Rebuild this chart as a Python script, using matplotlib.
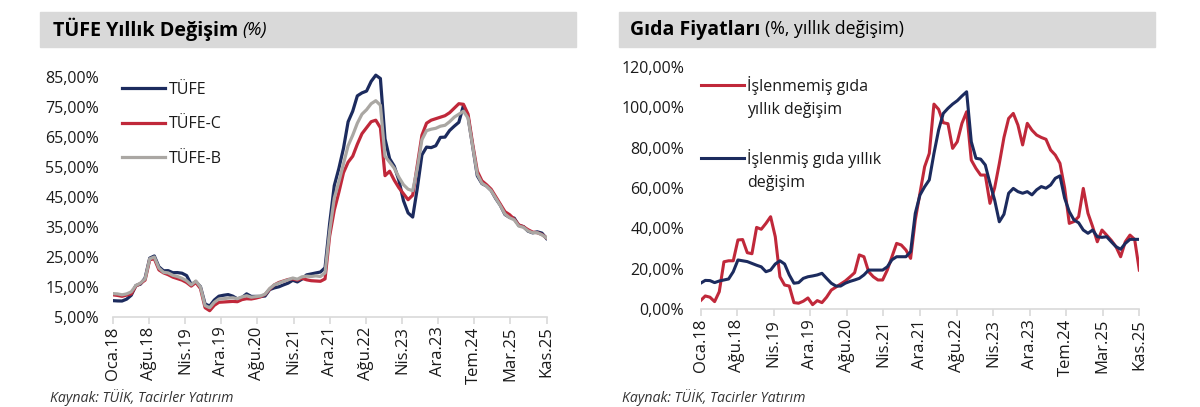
import numpy as np
import matplotlib
matplotlib.use('Agg')
import matplotlib.pyplot as plt
from matplotlib.patches import Rectangle
from matplotlib.ticker import FuncFormatter
from matplotlib.legend_handler import HandlerLine2D

plt.rcParams['font.family'] = ['Open Sans', 'DejaVu Sans']

# aylik veriler, Oca.18 - Kas.25
tufe = [
    10.35, 10.26, 10.23, 10.85, 12.15, 15.39, 15.85, 17.90, 24.52, 25.24, 21.62, 20.30,
    20.35, 19.67, 19.71, 19.50, 18.71, 15.72, 16.65, 15.01, 9.26, 8.55, 10.56, 11.84,
    12.15, 12.37, 11.86, 10.94, 11.39, 12.62, 11.76, 11.77, 11.75, 11.89, 14.03, 14.60,
    14.97, 15.61, 16.19, 17.14, 16.59, 17.53, 18.95, 19.25, 19.58, 19.89, 21.31, 36.08,
    48.69, 54.44, 61.14, 69.97, 73.50, 78.62, 79.60, 80.21, 83.45, 85.51, 84.39, 64.27,
    57.68, 55.18, 50.51, 43.68, 39.59, 38.21, 47.83, 58.94, 61.53, 61.36, 61.98, 64.77,
    64.86, 67.07, 68.50, 69.80, 75.45, 71.60, 61.78, 51.97, 49.38, 48.58, 47.09, 44.38,
    42.12, 39.05, 38.10, 37.86, 35.41, 35.05, 33.52, 32.95, 33.29, 32.87, 31.07]
tufe_c = [
    12.3, 12.1, 11.8, 12.2, 12.6, 15.2, 16.1, 17.2, 24.0, 24.3, 20.6, 19.6,
    19.0, 18.2, 17.7, 17.2, 16.4, 15.2, 16.4, 14.4, 8.0, 7.0, 8.8, 9.8,
    9.9, 10.0, 10.1, 10.0, 10.7, 11.0, 10.9, 11.2, 11.6, 12.4, 14.2, 15.6,
    16.4, 16.9, 17.4, 17.6, 17.2, 17.8, 17.3, 17.0, 16.9, 16.8, 17.6, 31.9,
    40.5, 46.5, 53.0, 56.5, 58.5, 62.5, 66.0, 68.0, 70.0, 70.5, 68.0, 52.0,
    53.5, 50.5, 48.0, 46.0, 44.0, 45.5, 55.5, 65.5, 69.5, 70.5, 71.0, 71.5,
    72.0, 73.0, 74.5, 76.0, 75.8, 72.5, 62.5, 53.5, 50.3, 49.0, 47.5, 45.0,
    42.5, 40.0, 39.0, 37.5, 35.6, 35.0, 34.0, 33.2, 33.0, 32.4, 31.3]
tufe_b = [
    12.7, 12.6, 12.3, 12.6, 13.3, 15.4, 16.2, 17.6, 24.3, 24.9, 21.2, 19.8,
    19.6, 18.8, 18.4, 17.8, 17.0, 15.6, 16.9, 14.9, 8.7, 8.0, 9.8, 10.9,
    11.0, 11.2, 11.3, 11.0, 11.6, 12.0, 11.5, 11.7, 11.9, 12.5, 14.4, 15.6,
    16.2, 16.8, 17.3, 17.9, 17.5, 18.3, 18.5, 18.4, 18.6, 18.4, 19.6, 33.5,
    44.5, 50.0, 56.0, 62.0, 65.5, 69.5, 72.5, 74.0, 76.0, 77.0, 75.5, 58.5,
    56.5, 54.5, 51.5, 49.0, 47.5, 47.0, 54.5, 64.0, 67.0, 67.5, 67.8, 68.5,
    68.8, 70.0, 71.5, 72.5, 73.5, 71.2, 61.8, 52.5, 49.5, 48.5, 47.0, 44.5,
    42.0, 39.2, 38.0, 37.3, 35.2, 34.8, 33.6, 33.0, 33.0, 32.3, 31.3]

islenmemis = [
    4.3, 6.6, 6.0, 3.8, 8.7, 23.5, 24.0, 24.0, 34.3, 34.5, 28.0, 27.5,
    40.5, 39.6, 42.5, 45.8, 35.9, 16.1, 12.0, 11.5, 3.3, 3.0, 4.0, 5.6,
    2.3, 4.3, 3.3, 6.0, 9.5, 11.0, 12.5, 14.0, 16.0, 18.1, 26.9, 26.0,
    18.6, 16.1, 14.5, 14.5, 19.4, 26.0, 32.6, 31.8, 29.3, 25.2, 44.2, 57.4,
    70.5, 77.1, 101.5, 98.9, 92.3, 91.8, 79.6, 82.9, 92.0, 97.7, 73.8, 69.7,
    66.4, 66.4, 52.4, 60.0, 72.0, 85.0, 94.4, 96.9, 91.1, 81.3, 92.0, 88.6,
    86.2, 85.0, 84.1, 78.8, 76.3, 72.2, 60.0, 42.5, 43.4, 45.8, 59.8, 47.5,
    40.9, 33.4, 39.2, 36.7, 34.1, 31.0, 26.0, 33.4, 36.7, 34.6, 19.4]
islenmis = [
    12.9, 14.3, 14.2, 13.2, 14.0, 14.5, 15.0, 18.6, 24.4, 24.0, 23.6, 22.7,
    21.8, 21.0, 18.6, 19.4, 22.4, 24.0, 22.4, 17.0, 12.9, 13.2, 15.3, 16.1,
    16.5, 17.0, 17.8, 15.3, 12.9, 11.5, 11.5, 12.9, 13.8, 14.5, 15.3, 17.0,
    19.4, 19.4, 19.4, 19.4, 21.0, 24.5, 26.0, 26.0, 26.0, 28.5, 47.5, 56.5,
    60.6, 64.0, 77.1, 88.7, 96.9, 99.4, 101.5, 103.2, 105.5, 107.6, 82.9, 74.7,
    74.3, 71.4, 62.3, 54.1, 43.3, 47.0, 57.4, 59.8, 58.2, 57.4, 58.2, 56.6,
    59.1, 60.7, 59.9, 61.5, 64.8, 66.0, 55.0, 48.3, 44.2, 42.8, 39.2, 37.6,
    39.2, 35.9, 35.6, 35.9, 33.4, 31.0, 29.7, 32.6, 34.6, 34.6, 34.6]

tick_labels = ['Oca.18', 'Ağu.18', 'Nis.19', 'Ara.19', 'Ağu.20', 'Nis.21', 'Ara.21',
               'Ağu.22', 'Nis.23', 'Ara.23', 'Tem.24', 'Mar.25', 'Kas.25']

NAVY = '#1C2B5E'
RED = '#C0283A'
GREY = '#AAA7A3'
TXT = '#1A1A1A'
W, H = 1200, 407


class FirstLineHandler(HandlerLine2D):
    # legend cizgisini cok satirli etiketin ilk satirina hizala
    def create_artists(self, legend, orig_handle, xdescent, ydescent, width, height,
                       fontsize, trans):
        artists = super().create_artists(legend, orig_handle, xdescent, ydescent,
                                         width, height, fontsize, trans)
        for a in artists:
            a.set_ydata(np.asarray(a.get_ydata()) + 0.8 * fontsize)
        return artists


def pct(v, pos):
    return '{:.2f}%'.format(v).replace('.', ',')


def style_axis(ax):
    for s in ['left', 'right', 'top']:
        ax.spines[s].set_visible(False)
    ax.spines['bottom'].set_color('#D9D9D9')
    ax.spines['bottom'].set_linewidth(1.2)
    ax.set_xlim(0, 94)
    ax.set_xticks(np.linspace(0, 94, len(tick_labels)))
    ax.set_xticklabels(tick_labels, rotation=90)
    ax.tick_params(axis='x', direction='out', length=5, width=1.2, color='#D9D9D9',
                   labelsize=12, labelcolor=TXT, pad=2)
    ax.tick_params(axis='y', length=0, labelsize=11.5, labelcolor=TXT)
    ax.yaxis.set_major_formatter(FuncFormatter(pct))


def px(x, y):
    return x / W, (H - y) / H


fig = plt.figure(figsize=(12, 4.07), dpi=100)

# sol panel
l, b = px(112.8, 316.7)
ax1 = fig.add_axes([l, b, (546.5 - 112.8) / W, (316.7 - 70.7) / H])
x = np.arange(len(tufe))
ax1.plot(x, tufe, color=NAVY, lw=2.3, label='TÜFE')
ax1.plot(x, tufe_c, color=RED, lw=2.3, label='TÜFE-C')
ax1.plot(x, tufe_b, color=GREY, lw=2.3, label='TÜFE-B')
ax1.set_ylim(5, 87)
ax1.set_yticks(np.arange(5, 86, 10))
style_axis(ax1)
ax1.tick_params(axis='y', pad=10)
ax1.legend(loc='upper left', bbox_to_anchor=(0.022, 0.955), frameon=False,
           fontsize=11.5, handlelength=2.7, handletextpad=0.2, labelspacing=1.15,
           borderpad=0, borderaxespad=0, labelcolor=TXT)

# sag panel
l, b = px(700.6, 309.3)
ax2 = fig.add_axes([l, b, (1139.3 - 700.6) / W, (309.3 - 66.7) / H])
x2 = np.arange(len(islenmemis))
ax2.plot(x2, islenmemis, color=RED, lw=2.2, label='İşlenmemiş gıda\nyıllık değişim')
ax2.plot(x2, islenmis, color=NAVY, lw=2.2, label='İşlenmiş gıda yıllık\ndeğişim')
ax2.set_ylim(0, 120)
ax2.set_yticks(np.arange(0, 121, 20))
style_axis(ax2)
ax2.tick_params(axis='y', pad=12)
leg = ax2.legend(loc='upper left', bbox_to_anchor=(0.002, 0.96), frameon=False,
                 fontsize=11.5, handlelength=2.65, handletextpad=0.2, labelspacing=1.95,
                 borderpad=0, borderaxespad=0, labelcolor=TXT,
                 handler_map={plt.Line2D: FirstLineHandler()})
for t in leg.get_texts():
    t.set_linespacing(1.55)

# baslik kutulari
for x0, x1 in [(39.6, 575.8), (618.5, 1155)]:
    bx, by = px(x0, 47)
    fig.patches.append(Rectangle((bx, by), (x1 - x0) / W, 35 / H,
                                 transform=fig.transFigure, color='#D9D9D9', zorder=0))

ty = (H - 29.5) / H
t1 = fig.text(52.7 / W, ty, 'TÜFE Yıllık Değişim', fontsize=14.2, fontweight='bold',
              va='center', color='black')
t2 = fig.text(630 / W, ty, 'Gıda Fiyatları', fontsize=14, fontweight='bold',
              va='center', color='black')
fig.canvas.draw()
r = fig.canvas.get_renderer()
e1 = t1.get_window_extent(r)
e2 = t2.get_window_extent(r)
fig.text(e1.x1 / W + 0.004, ty, '(%)', fontsize=13, style='italic', va='center',
         color='black')
fig.text(e2.x1 / W + 0.004, ty, '(%, yıllık değişim)', fontsize=12.7, va='center',
         color='black')

# kaynak
fig.text(50 / W, (H - 398) / H, 'Kaynak: TÜİK, Tacirler Yatırım', fontsize=10.2,
         style='italic', va='center', color='#333333')
fig.text(622 / W, (H - 398) / H, 'Kaynak: TÜİK, Tacirler Yatırım', fontsize=10.2,
         style='italic', va='center', color='#333333')

fig.savefig('out.png', dpi=100)
